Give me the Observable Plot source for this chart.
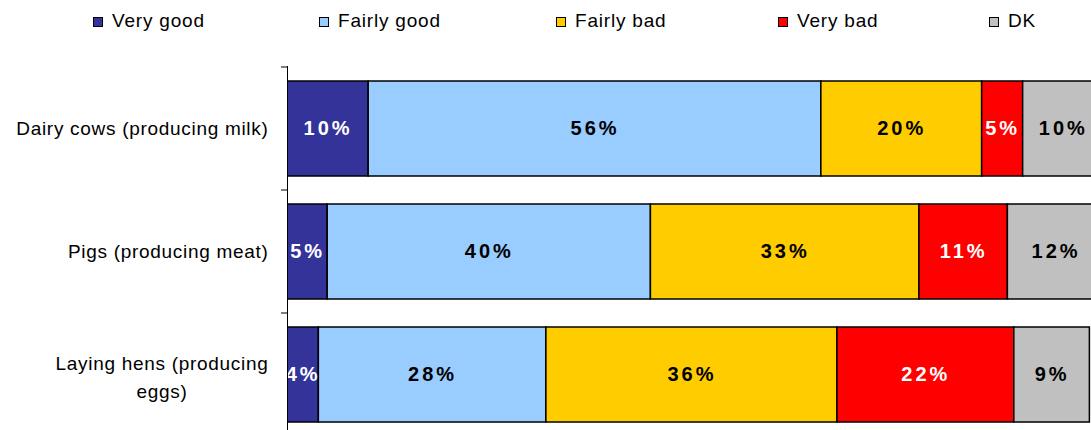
<!DOCTYPE html>
<html>
<head>
<meta charset="utf-8">
<script src="https://cdn.jsdelivr.net/npm/d3@7"></script>
<script src="https://cdn.jsdelivr.net/npm/@observablehq/plot@0.6"></script>
<style>
  html, body { margin: 0; padding: 0; background: #fff; overflow: hidden; }
  #wrap { position: relative; width: 1091px; height: 430px; font-family: "Liberation Sans", Arial, sans-serif; }
  #legend { position: relative; height: 40px; width: 1091px; }
  .item { position: absolute; top: 0; height: 40px; }
  .sw { position: absolute; top: 17px; width: 8px; height: 8px; border: 1.6px solid #000; }
  .lab { position: absolute; top: 10px; font-size: 19px; letter-spacing: 0.8px; white-space: nowrap; color: #000; line-height: 22px; }
  g[aria-description="bar-labels"] text { letter-spacing: 3px; }
  g[aria-description="cat-labels"] text { letter-spacing: 0.7px; }
</style>
</head>
<body>
<div id="wrap">
  <div id="legend"></div>
  <div id="chart"></div>
</div>
<script>
// Categories (y) and their display labels
const categories = ["Dairy cows (producing milk)", "Pigs (producing meat)", "Laying hens (producing eggs)"];
const categoryLabels = ["Dairy cows (producing milk)", "Pigs (producing meat)", "Laying hens (producing\neggs)"];

// Series
const series = ["Very good", "Fairly good", "Fairly bad", "Very bad", "DK"];
const seriesColors = ["#333399", "#99CCFF", "#FFCC00", "#FF0000", "#C0C0C0"];

// Values (%), one per category
const veryGood   = [10.1, 5.0, 3.9];
const fairlyGood = [56.3, 40.2, 28.3];
const fairlyBad  = [20.0, 33.4, 36.2];
const veryBad    = [5.1, 11.0, 22.0];
const dk         = [10, 12, 9.4];

const valuesBySeries = [veryGood, fairlyGood, fairlyBad, veryBad, dk];
const whiteLabelSeries = ["Very good", "Very bad"];

const data = categories.flatMap((c, i) =>
  series.map((s, j) => ({category: c, series: s, value: valuesBySeries[j][i]}))
);

// Legend (HTML)
const legendX = [93, 319, 556, 778, 989];
const legend = document.getElementById("legend");
series.forEach((s, j) => {
  const item = document.createElement("div");
  item.className = "item";
  item.style.left = legendX[j] + "px";
  const sw = document.createElement("div");
  sw.className = "sw";
  sw.style.left = "0px";
  sw.style.background = seriesColors[j];
  const lab = document.createElement("div");
  lab.className = "lab";
  lab.style.left = "19px";
  lab.textContent = s;
  item.appendChild(sw);
  item.appendChild(lab);
  legend.appendChild(item);
});

const fmt = d => Math.round(d.value) + "%";

const chart = Plot.plot({
  width: 1091,
  height: 396,
  marginLeft: 287,
  marginRight: 0,
  marginTop: 26,
  marginBottom: 0,
  style: {fontFamily: "Liberation Sans, Arial, sans-serif", background: "#fff", overflow: "visible"},
  x: {domain: [0, 100], axis: null},
  y: {domain: categories, axis: null, paddingInner: 0.23, paddingOuter: 0.115},
  color: {domain: series, range: seriesColors, legend: false},
  marks: [
    Plot.barX(data, {x: "value", y: "category", fill: "series", stroke: "#000", strokeWidth: 1.5, clip: true}),
    Plot.text(data, Plot.filter(d => !whiteLabelSeries.includes(d.series), Plot.stackX({
      x: "value", y: "category", z: "series", text: fmt,
      fill: "#000", fontSize: 20, fontWeight: "bold", ariaDescription: "bar-labels"
    }))),
    Plot.text(data, Plot.filter(d => whiteLabelSeries.includes(d.series), Plot.stackX({
      x: "value", y: "category", z: "series", text: fmt,
      fill: "#fff", fontSize: 20, fontWeight: "bold", ariaDescription: "bar-labels"
    }))),
    Plot.ruleX([0], {stroke: "#000", strokeWidth: 1}),
    // tick marks at band boundaries, drawn from the y scale
    (index, scales) => {
      const y = scales.y, x = scales.x;
      const bw = y.bandwidth();
      const step = y(categories[1]) - y(categories[0]);
      const pad = (step - bw) / 2;
      const bounds = categories.map(c => y(c) - pad).concat([y(categories[categories.length - 1]) + bw + pad]);
      const x0 = x(0);
      const g = d3.create("svg:g").attr("stroke", "#000").attr("stroke-width", 1);
      g.selectAll("line").data(bounds).join("line")
        .attr("x1", x0 - 6).attr("x2", x0).attr("y1", d => d).attr("y2", d => d);
      return g.node();
    },
    Plot.text(categories, {
      filter: (d, i) => !categoryLabels[i].includes("\n"),
      y: d => d, text: d => categoryLabels[categories.indexOf(d)],
      frameAnchor: "left", textAnchor: "end", dx: -19, fontSize: 19, fill: "#000",
      ariaDescription: "cat-labels"
    }),
    Plot.text(categories, {
      filter: (d, i) => categoryLabels[i].includes("\n"),
      y: d => d, text: d => categoryLabels[categories.indexOf(d)],
      frameAnchor: "left", textAnchor: "middle", dx: -125.5, fontSize: 19, lineHeight: 1.5, fill: "#000",
      ariaDescription: "cat-labels"
    })
  ]
});
document.getElementById("chart").appendChild(chart);
</script>
</body>
</html>
